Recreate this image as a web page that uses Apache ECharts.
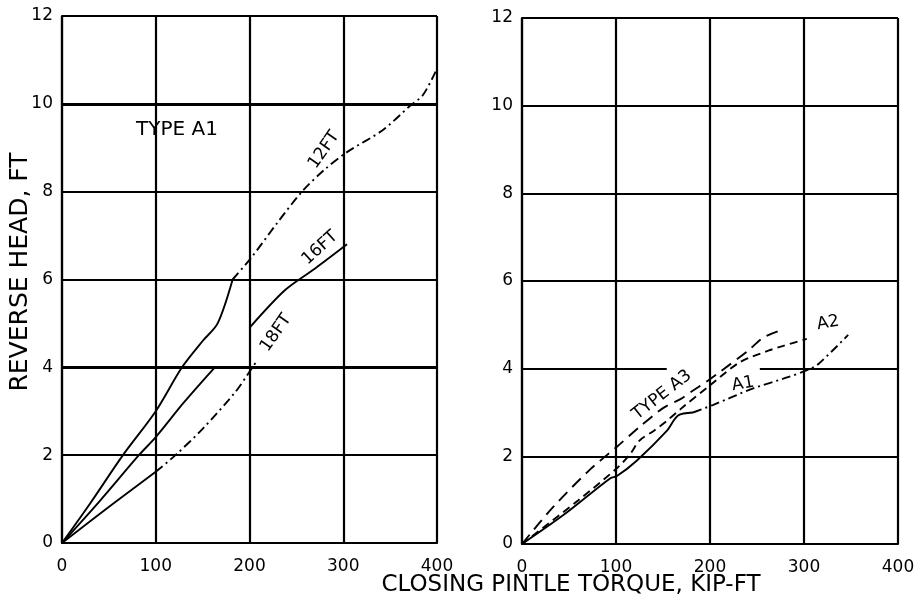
<!DOCTYPE html>
<html><head><meta charset="utf-8">
<script src="https://cdn.jsdelivr.net/npm/echarts@6/dist/echarts.min.js"></script>
<style>html,body{margin:0;background:#fff}#c{width:922px;height:601px}</style>
</head><body><div id="c"></div>
<script>
// ---- data ----
const xTicks = [0, 100, 200, 300, 400];
const yTicks = [0, 2, 4, 6, 8, 10, 12];
// Left panel: Type A1, curves by gate size
const ft12 = [[0,0],[30,0.9],[65,2],[100,3.0],[128,4],[150,4.6],[166,5],[182,6],[202,6.5],[230,7.3],[256,8],[280,8.5],[304,8.9],[342,9.4],[371,9.95],[385,10.2],[400,10.8]];
const ft16 = [[0,0],[40,0.95],[82,2],[100,2.41],[130,3.2],[163,4],[200,4.9],[238,5.76],[270,6.25],[304,6.8]];
const ft18 = [[0,0],[53,0.87],[100,1.62],[121,2],[150,2.6],[185,3.44],[200,3.9],[208,4.15]];
// Right panel: gate types
const typeA1 = [[0,0],[44,0.66],[94,1.5],[101,1.55],[122,1.9],[154,2.58],[166,2.93],[182,3.0],[203,3.17],[246,3.55],[282,3.8],[305,3.98],[315,4.1],[347,4.77]];
const typeA2 = [[0,0],[60,1.0],[101,1.73],[115,2.05],[125,2.36],[140,2.58],[154,2.81],[171,3.12],[200,3.62],[232,4.15],[262,4.41],[278,4.52],[303,4.68]];
const typeA3 = [[0,0],[33,0.84],[72,1.69],[101,2.22],[125,2.67],[150,3.1],[168,3.3],[182,3.5],[198,3.73],[212,3.95],[240,4.4],[256,4.7],[272,4.85]];
// gridline details: heavier lines on left panel, interrupted y=4 line on right panel
const leftHeavyY = [4, 10];
const rightY4Gap = [154, 253];
const labels = {
  yTitle: 'REVERSE HEAD, FT',
  xTitle: 'CLOSING PINTLE TORQUE, KIP-FT',
  panelLeft: 'TYPE A1',
  c12: '12FT', c16: '16FT', c18: '18FT',
  a3: 'TYPE A3', a1: 'A1', a2: 'A2'
};

// ---- styling ----
const FONT = 'DejaVu Sans';
const INK = '#000';
const SOLID = 'solid';
const DASHDOT = [9, 4, 2, 4];
const LONGDASH = [12, 7];
const MEDDASH = [8, 5];
const GW = 2.2;

function axisX(gi) {
  return {
    type: 'value', gridIndex: gi, min: xTicks[0], max: xTicks[xTicks.length-1], interval: 100,
    axisLine: {show: true, onZero: false, lineStyle: {color: INK, width: GW}},
    axisTick: {show: false},
    axisLabel: {color: INK, fontFamily: FONT, fontSize: 17, margin: 15},
    splitLine: {show: true, lineStyle: {color: INK, width: GW}}
  };
}
function axisY(gi, split) {
  return {
    type: 'value', gridIndex: gi, min: yTicks[0], max: yTicks[yTicks.length-1], interval: 2,
    axisLine: {show: true, onZero: false, lineStyle: {color: INK, width: GW}},
    axisTick: {show: false},
    axisLabel: {color: INK, fontFamily: FONT, fontSize: 17, margin: 9},
    splitLine: {show: split, lineStyle: {color: INK, width: GW}}
  };
}
function line(data, gi, type, width) {
  return {
    type: 'line', xAxisIndex: gi, yAxisIndex: gi, data: data, showSymbol: false, symbol: 'none',
    smooth: 0.3, silent: true, animation: false,
    lineStyle: {color: INK, width: width || 1.9, type: type}
  };
}
function txt(text, x, y, deg, size) {
  return {
    type: 'text', x: x, y: y, rotation: (deg || 0) * Math.PI / 180, silent: true,
    style: {text: text, fill: INK, font: (size || 15) + 'px "' + FONT + '"', align: 'center', verticalAlign: 'middle'}
  };
}
const xMin = xTicks[0], xMax = xTicks[xTicks.length-1];
// right-panel horizontal gridlines (y=4 drawn with its gap)
const rightGridLines = [];
yTicks.slice(1).forEach(function (v) {
  if (v === 4) {
    rightGridLines.push([{coord: [xMin, v]}, {coord: [rightY4Gap[0], v]}]);
    rightGridLines.push([{coord: [rightY4Gap[1], v]}, {coord: [xMax, v]}]);
  } else {
    rightGridLines.push([{coord: [xMin, v]}, {coord: [xMax, v]}]);
  }
});
const leftHeavyLines = leftHeavyY.map(function (v) { return [{coord: [xMin, v]}, {coord: [xMax, v]}]; });

function gridSeries(gi, lines, width) {
  return {
    type: 'line', xAxisIndex: gi, yAxisIndex: gi, data: [], silent: true, animation: false,
    markLine: {silent: true, symbol: ['none', 'none'], label: {show: false}, animation: false,
      lineStyle: {color: INK, width: width, type: 'solid'}, data: lines}
  };
}

const chart = echarts.init(document.getElementById('c'), null, {renderer: 'canvas'});
chart.setOption({
  backgroundColor: '#fff',
  animation: false,
  grid: [
    {left: 62, top: 16, width: 375, height: 527},
    {left: 522, top: 18, width: 376, height: 526}
  ],
  xAxis: [axisX(0), axisX(1)],
  yAxis: [axisY(0, true), axisY(1, false)],
  series: [
    gridSeries(0, leftHeavyLines, 3.2),
    gridSeries(1, rightGridLines, GW),
    line(ft12.slice(0, 8), 0, SOLID),
    line(ft12.slice(7), 0, DASHDOT),
    line(ft16.slice(0, 6), 0, SOLID),
    line(ft16.slice(6), 0, SOLID),
    line(ft18.slice(0, 3), 0, SOLID),
    line(ft18.slice(2), 0, DASHDOT),
    line(typeA1.slice(0, 8), 1, SOLID),
    line(typeA1.slice(7), 1, DASHDOT),
    line(typeA2, 1, MEDDASH),
    line(typeA3, 1, LONGDASH)
  ],
  graphic: [
    txt(labels.yTitle, 20, 272, 90, 25),
    txt(labels.xTitle, 571, 585, 0, 23),
    txt(labels.panelLeft, 177, 130, 0, 20),
    txt(labels.c12, 324, 150, 55, 17),
    txt(labels.c16, 320, 248, 42, 17),
    txt(labels.c18, 276, 333, 55, 17),
    txt(labels.a3, 662, 395, 38, 17),
    txt(labels.a1, 743, 384, 10, 17),
    txt(labels.a2, 828, 323, 10, 17)
  ]
});
</script>
</body></html>
